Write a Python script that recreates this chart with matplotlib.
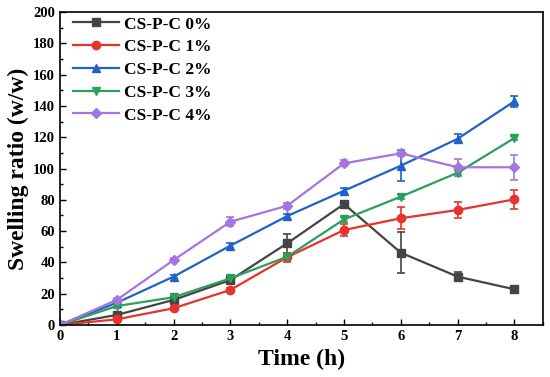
import matplotlib.pyplot as plt
from matplotlib.ticker import MultipleLocator
from matplotlib.lines import Line2D

# 数据
time = [0, 1, 2, 3, 4, 5, 6, 7, 8]
labels = ['CS-P-C 0%', 'CS-P-C 1%', 'CS-P-C 2%', 'CS-P-C 3%', 'CS-P-C 4%']
c0 = [0, 6.4, 16, 28.7, 52.2, 77.3, 46.2, 30.9, 22.8]
c1 = [0, 3.6, 10.7, 22.4, 43.3, 60.7, 68.2, 73.5, 80.3]
c2 = [0, 14.2, 30.9, 50.7, 69.6, 85.8, 101.8, 119, 143]
c3 = [0, 12.1, 17.7, 29.8, 43.6, 67.5, 82, 97.3, 119.5]
c4 = [0, 16, 41.5, 66, 76.2, 103.3, 109.7, 100.8, 100.8]
e0 = [0, 1, 1.5, 1.5, 6, 2, 13, 3, 1.5]
e1 = [0, 0.5, 1, 1.5, 3, 4, 7, 5, 6]
e2 = [0, 1, 1, 1.5, 1.5, 1.5, 10, 3, 3.5]
e3 = [0, 1, 1, 1.5, 1.5, 1.5, 1.5, 2, 1.5]
e4 = [0, 1.5, 1.5, 3, 2, 2, 2, 5, 8]

series = [c0, c1, c2, c3, c4]
errors = [e0, e1, e2, e3, e4]
colors = ['#444444', '#e8322c', '#1f62c8', '#2aa05c', '#a475e0']
markers = ['s', 'o', '^', 'v', 'D']

plt.rcParams['font.family'] = ['Liberation Serif', 'DejaVu Serif']
plt.rcParams['font.weight'] = 'bold'

fig = plt.figure(figsize=(5.5, 3.77), dpi=100)
ax = fig.add_axes([0.109, 0.138, 0.878, 0.83])

handles = []
for y, e, c, m, lab in zip(series, errors, colors, markers, labels):
    ms = 5 if m == 'D' else 6
    ax.errorbar(time, y, yerr=e, color=c, marker=m, markersize=ms,
                linewidth=1.6, capsize=3, elinewidth=1.2, capthick=1.2)
    # 图例只显示线和标记
    handles.append(Line2D([], [], color=c, marker=m, markersize=ms,
                          linewidth=1.6, label=lab))

ax.set_xlim(0, 8.5)
ax.set_ylim(0, 200)
ax.xaxis.set_major_locator(MultipleLocator(1))
ax.xaxis.set_minor_locator(MultipleLocator(0.5))
ax.yaxis.set_major_locator(MultipleLocator(20))
ax.yaxis.set_minor_locator(MultipleLocator(10))
ax.tick_params(which='both', direction='in', labelsize=10.5, width=1)
ax.tick_params(which='major', length=4)
ax.tick_params(which='minor', length=2)
for s in ax.spines.values():
    s.set_linewidth(1.2)

ax.set_xlabel('Time (h)', fontsize=17, fontweight='bold', labelpad=4)
ax.set_ylabel('Swelling ratio (w/w)', fontsize=17, fontweight='bold', labelpad=3)

ax.legend(handles=handles, loc='upper left', frameon=False, fontsize=12.5,
          handlelength=2.6, handletextpad=0.3, labelspacing=0.38,
          borderaxespad=0.2, borderpad=0.3, bbox_to_anchor=(0.01, 1.014))

plt.savefig('out.png', dpi=100)
